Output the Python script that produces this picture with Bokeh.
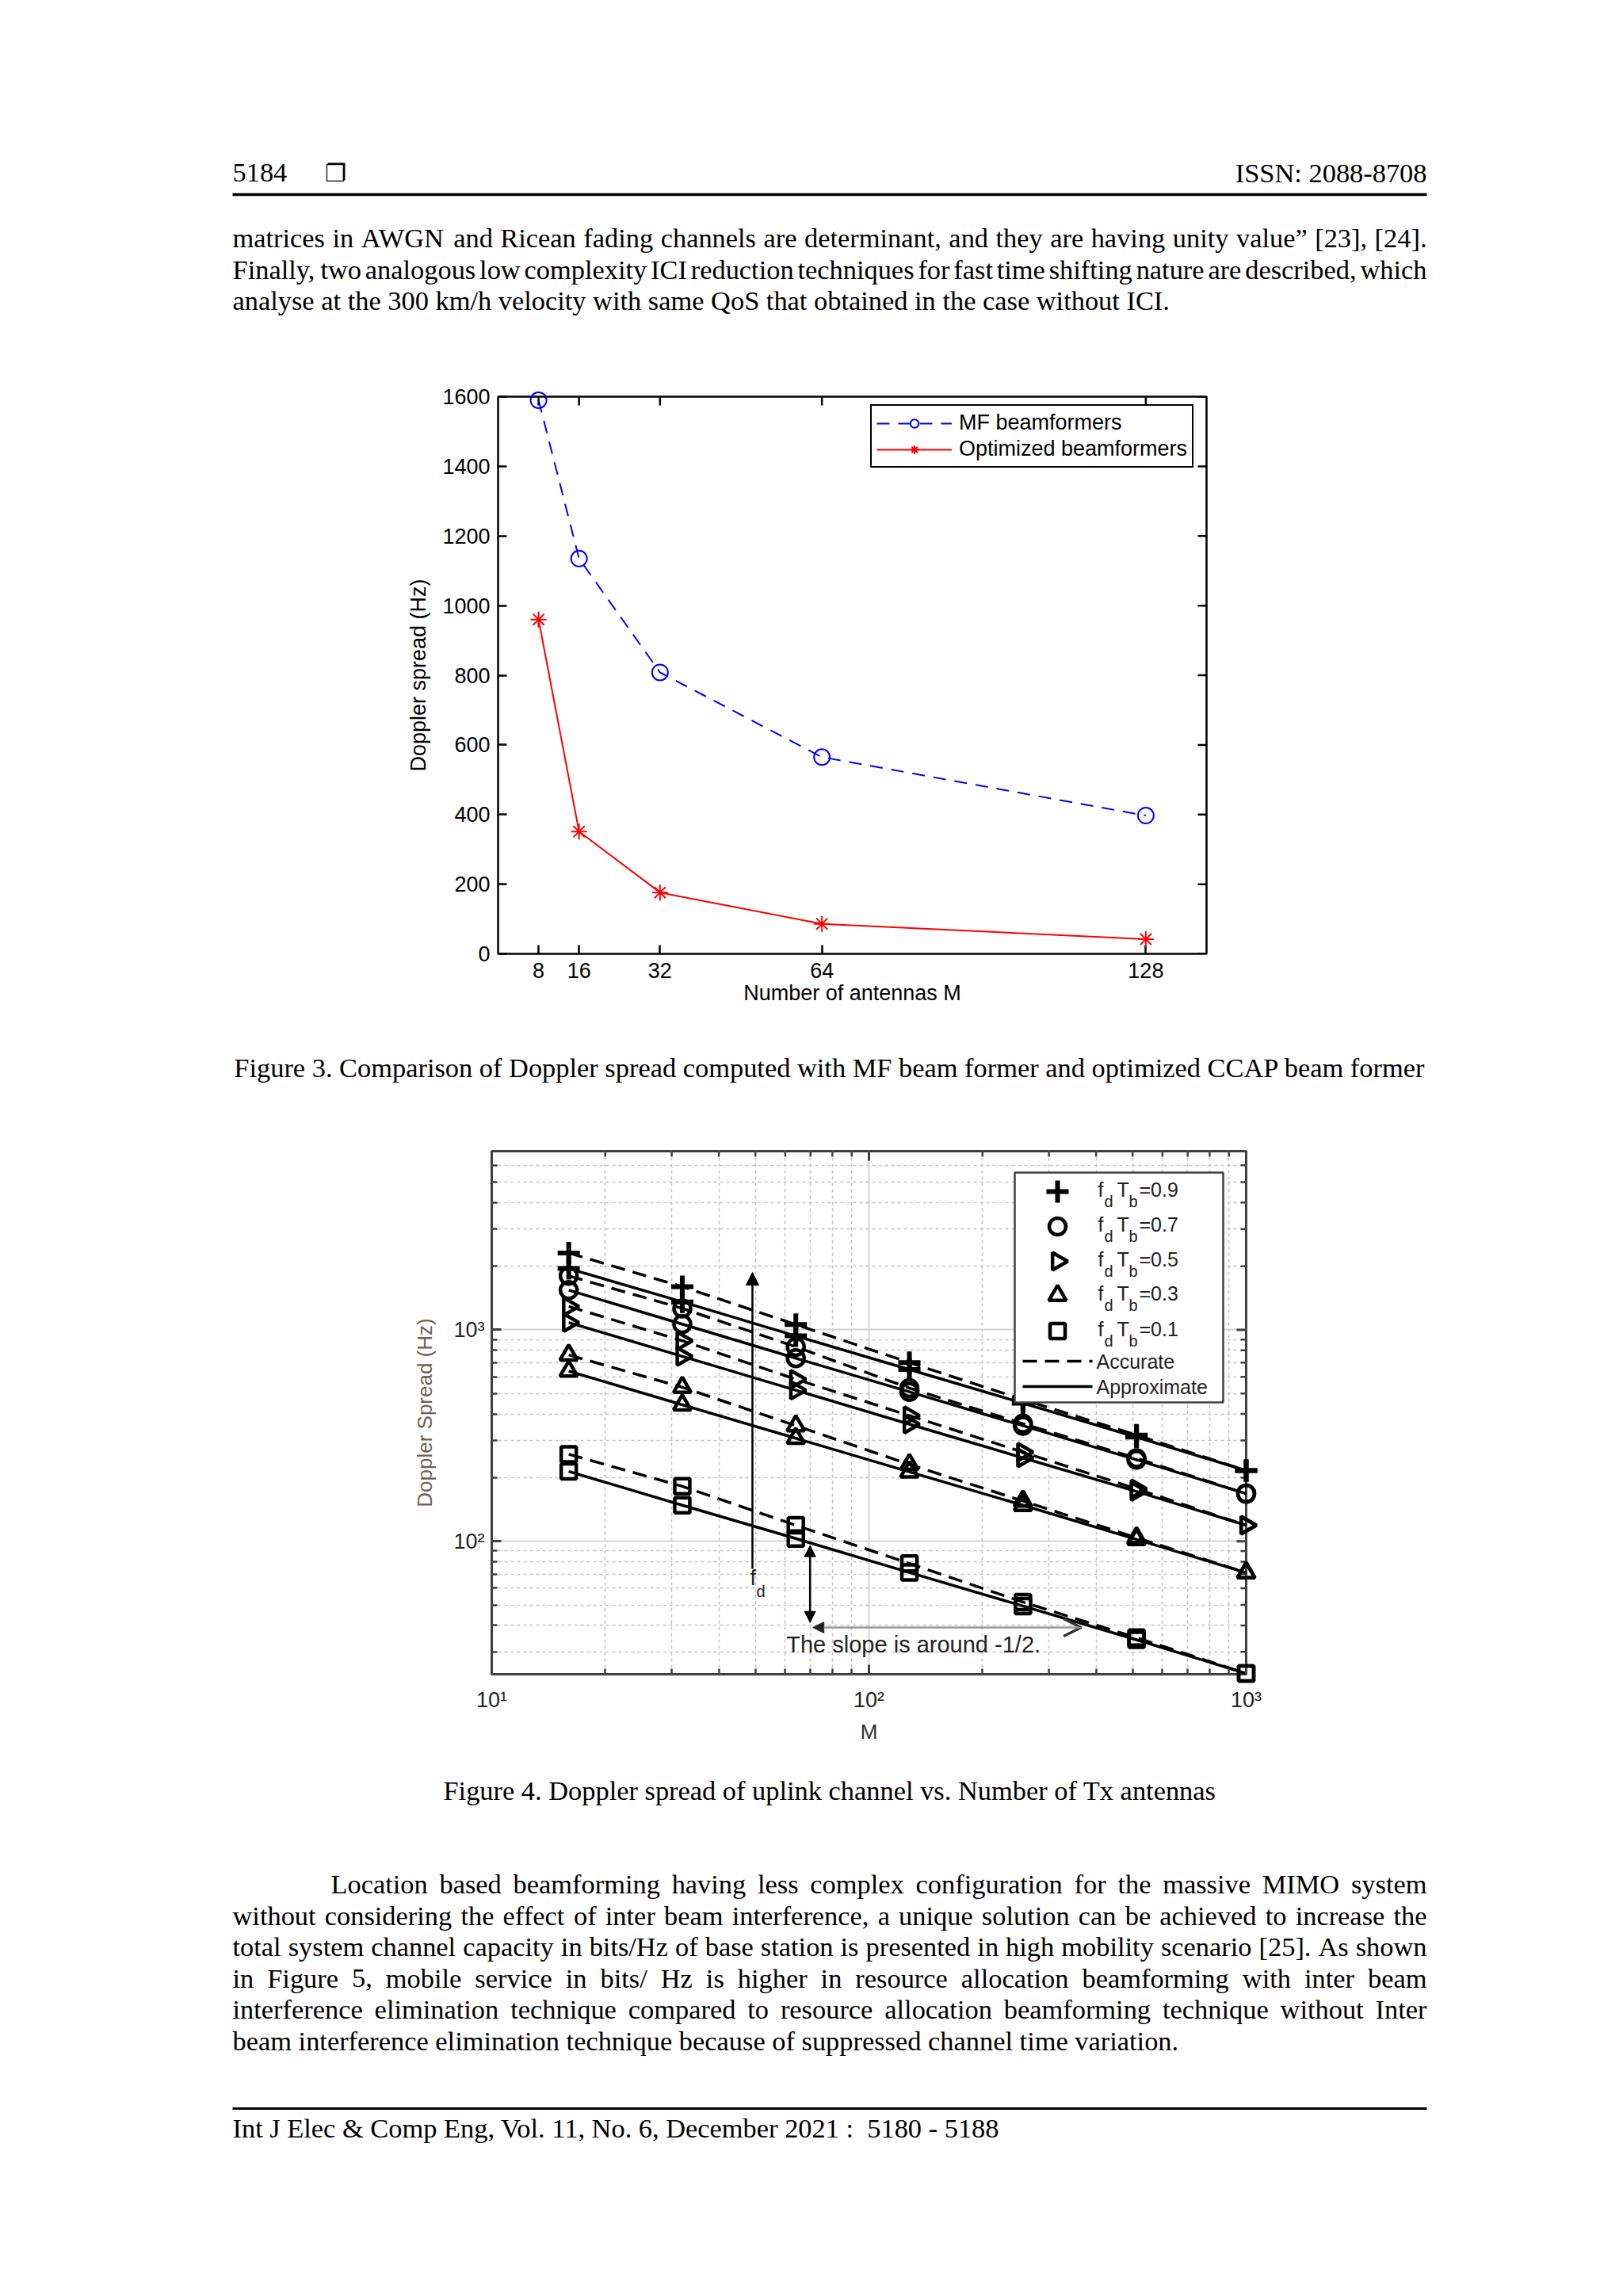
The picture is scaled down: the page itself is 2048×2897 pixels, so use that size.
import math
from bokeh.plotting import figure
from bokeh.layouts import column
from bokeh.models import (Range1d, FixedTicker, Legend, LegendItem,
                          Arrow, NormalHead, OpenHead, BasicTickFormatter)
from bokeh.core.properties import value
from bokeh.embed import file_html
from bokeh.resources import INLINE

# ---------------------------------------------------------------- data
# Figure 3
antennas_fig3 = [8, 16, 32, 64, 128]
mf_beamformers = [1590, 1135, 808, 565, 397]
optimized_beamformers = [960, 351, 176, 86, 42]
fig3_xticks = [8, 16, 32, 64, 128]
fig3_yticks = [0, 200, 400, 600, 800, 1000, 1200, 1400, 1600]

# Figure 4
antennas_fig4 = [16, 32, 64, 128, 256, 512, 1000]
fdtb_values = ["0.9", "0.7", "0.5", "0.3", "0.1"]
acc_09 = [2310, 1600, 1060, 700, 468, 318, 216]
app_09 = [1950, 1356, 936, 649, 450, 311, 216]
acc_07 = [1800, 1263, 831, 530, 360, 247, 168]
app_07 = [1541, 1064, 734, 509, 352, 243, 168]
acc_05 = [1290, 888, 584, 393, 264, 177, 119]
app_05 = [1083, 749, 518, 358, 248, 172, 119]
acc_03 = [761, 535, 352, 231, 155, 104, 71]
app_03 = [638, 442, 307, 213, 148, 102, 71]
acc_01 = [258, 182, 119, 78.5, 51.6, 35.0, 23.7]
app_01 = [214, 148, 103, 71.2, 49.4, 34.2, 23.7]
fig4_xticks = [10, 100, 1000]
fig4_yticks = [100, 1000]
fig4_xlabels = {10: "10\u00b9", 100: "10\u00b2", 1000: "10\u00b3"}
fig4_ylabels = {100: "10\u00b2", 1000: "10\u00b3"}
# annotation anchors (data units)
fd_arrow_x = 49.1
fd_arrow_y = (74.0, 1870.0)
dbl_arrow_x = 69.8
dbl_arrow_y = (95.4, 41.3)
slope_arrow_y = 39.1
slope_arrow_x = (365.0, 71.0)
slope_text_xy = (60.4, 32.4)

# page text
header_left = "5184"
header_box = "\u2750"
header_right = "ISSN: 2088-8708"
para1 = [
    "matrices in AWGN and Ricean fading channels are determinant, and they are having unity value\u201d [23], [24].",
    "Finally, two analogous low complexity ICI reduction techniques for fast time shifting nature are described, which",
    "analyse at the 300 km/h velocity with same QoS that obtained in the case without ICI.",
]
caption3 = "Figure 3. Comparison of Doppler spread computed with MF beam former and optimized CCAP beam former"
caption4 = "Figure 4. Doppler spread of uplink channel vs. Number of Tx antennas"
para2 = [
    "Location based beamforming having less complex configuration for the massive MIMO system",
    "without considering the effect of inter beam interference, a unique solution can be achieved to increase the",
    "total system channel capacity in bits/Hz of base station is presented in high mobility scenario [25]. As shown",
    "in Figure 5, mobile service in bits/ Hz is higher in resource allocation beamforming with inter beam",
    "interference elimination technique compared to resource allocation beamforming technique without Inter",
    "beam interference elimination technique because of suppressed channel time variation.",
]
footer = "Int J Elec & Comp Eng, Vol. 11, No. 6, December 2021 :\u00a0 5180 - 5188"

# ---------------------------------------------------------------- helpers
SERIF = "Liberation Serif"
SANS = "Liberation Sans"
FS = 34.4
W = 2048
TEXT_L, TEXT_R = 293, 1800

TW = {' ': 250, 'a': 444, 'b': 500, 'c': 444, 'd': 500, 'e': 444, 'f': 333, 'g': 500, 'h': 500,
      'i': 278, 'j': 278, 'k': 500, 'l': 278, 'm': 778, 'n': 500, 'o': 500, 'p': 500, 'q': 500,
      'r': 333, 's': 389, 't': 278, 'u': 500, 'v': 500, 'w': 722, 'x': 500, 'y': 500, 'z': 444,
      'A': 722, 'B': 667, 'C': 667, 'D': 722, 'E': 611, 'F': 556, 'G': 722, 'H': 722, 'I': 333,
      'J': 389, 'K': 722, 'L': 611, 'M': 889, 'N': 722, 'O': 722, 'P': 556, 'Q': 722, 'R': 667,
      'S': 556, 'T': 611, 'U': 722, 'V': 722, 'W': 944, 'X': 722, 'Y': 722, 'Z': 611,
      '.': 250, ',': 250, ':': 278, ';': 278, '-': 333, '/': 278, '[': 333, ']': 333,
      '(': 333, ')': 333, '\u201d': 444, '\u201c': 444, '&': 778}


def tw(s, fs=FS):
    return sum(TW.get(c, 500) for c in s) * fs / 1000.0


def page_fig(height):
    f = figure(width=W, height=height, x_range=Range1d(0, W), y_range=Range1d(height, 0),
               x_axis_location=None, y_axis_location=None, output_backend="svg",
               toolbar_location=None, min_border=0, frame_align=False)
    f.grid.visible = False
    f.outline_line_color = None
    return f


def put(f, x, y, s, align="left", font=SERIF, size=FS):
    f.text(x=[x], y=[y], text=[s], text_font=value(font), text_font_size=value(f"{size}px"),
           text_align=align, text_baseline="middle", text_color="black")


def justified(f, line, left, right, y):
    words = line.split(" ")
    ws = [tw(w) for w in words]
    gap = (right - left - sum(ws)) / (len(words) - 1)
    xs, x = [], left
    for w in ws:
        xs.append(x)
        x += w + gap
    f.text(x=xs[:-1], y=[y] * (len(words) - 1), text=words[:-1], text_font=value(SERIF),
           text_font_size=value(f"{FS}px"), text_align="left", text_baseline="middle",
           text_color="black")
    put(f, right, y, words[-1], align="right")


# ---------------------------------------------------------------- A: header + para 1 (page y 0-430)
A = page_fig(430)
put(A, TEXT_L, 217.5, header_left)
put(A, 423, 217.5, header_box, align="center", font="DejaVu Sans", size=30)
put(A, TEXT_R, 217.5, header_right, align="right")
A.segment(x0=[TEXT_L], y0=[245], x1=[TEXT_R], y1=[245], line_width=3.5, line_color="black")
for i, (line, y) in enumerate(zip(para1, [299, 339, 378.5])):
    if i < len(para1) - 1:
        justified(A, line, TEXT_L, TEXT_R, y)
    else:
        put(A, TEXT_L, y, line)

# ---------------------------------------------------------------- B: figure 3 (page y 430-1300)
X3 = (0, 140)
Y3 = (0, 1600)
F3_W, F3_H = 894, 703        # frame size in px
p3 = figure(width=W, height=870, x_range=Range1d(*X3), y_range=Range1d(*Y3),
            output_backend="svg", toolbar_location=None, frame_align=False,
            min_border_left=628, min_border_right=W - 1522, min_border_top=70, min_border_bottom=97)
p3.grid.visible = False
p3.outline_line_color = "black"
p3.outline_line_width = 2.5
p3.outline_line_alpha = 1.0

xt3 = FixedTicker(ticks=fig3_xticks, minor_ticks=[])
yt3 = FixedTicker(ticks=fig3_yticks, minor_ticks=[])
TICK3 = 11
for ax in (p3.xaxis[0], p3.yaxis[0]):
    ax.axis_line_color = None
    ax.major_tick_in = TICK3
    ax.major_tick_out = 0
    ax.minor_tick_in = 0
    ax.minor_tick_out = 0
    ax.major_tick_line_color = "black"
    ax.major_tick_line_width = 2.5
    ax.major_label_text_font = SANS
    ax.major_label_text_font_size = "27px"
    ax.major_label_text_color = "black"
    ax.axis_label_text_font = SANS
    ax.axis_label_text_font_size = "27px"
    ax.axis_label_text_font_style = "normal"
    ax.axis_label_text_color = "black"
p3.xaxis.ticker = xt3
p3.yaxis.ticker = yt3
p3.xaxis.major_label_standoff = 11
p3.xaxis.axis_label = "Number of antennas M"
p3.xaxis.axis_label_standoff = 1
p3.yaxis.major_label_standoff = 10
p3.yaxis.axis_label = "Doppler spread (Hz)"
p3.yaxis.axis_label_standoff = 12

# ticks on the top and right edges (box on)
dy3 = TICK3 * (Y3[1] - Y3[0]) / F3_H
dx3 = TICK3 * (X3[1] - X3[0]) / F3_W
p3.segment(x0=fig3_xticks, y0=[Y3[1]] * len(fig3_xticks), x1=fig3_xticks,
           y1=[Y3[1] - dy3] * len(fig3_xticks), line_color="black", line_width=2.5)
p3.segment(x0=[X3[1]] * len(fig3_yticks), y0=fig3_yticks, x1=[X3[1] - dx3] * len(fig3_yticks),
           y1=fig3_yticks, line_color="black", line_width=2.5)

mf_line = p3.line(antennas_fig3, mf_beamformers, line_color="#0000ff", line_width=2, line_dash="16 11")
mf_pts = p3.scatter(antennas_fig3, mf_beamformers, marker="circle", size=20, line_color="#0000ff",
                    fill_color=None, line_width=2, level="annotation")
opt_line = p3.line(antennas_fig3, optimized_beamformers, line_color="#ff0000", line_width=2)
opt_pts = p3.scatter(antennas_fig3, optimized_beamformers, marker="asterisk", size=20,
                     line_color="#ff0000", line_width=2, level="annotation")
leg3 = Legend(items=[LegendItem(label=value("MF beamformers"), renderers=[mf_line, mf_pts]),
                     LegendItem(label=value("Optimized beamformers"), renderers=[opt_line, opt_pts])],
              location=(470, 613), orientation="vertical", margin=0, padding=6, spacing=2,
              glyph_width=95, glyph_height=26, label_height=26, label_standoff=9,
              label_text_font=SANS, label_text_font_size="27px", label_text_color="black",
              border_line_color="black", border_line_width=2, border_line_alpha=1.0,
              background_fill_color="white", background_fill_alpha=1.0)
p3.add_layout(leg3)

# ---------------------------------------------------------------- C: caption 3 (page y 1300-1400)
C = page_fig(100)
put(C, (TEXT_L + TEXT_R) / 2, 46, caption3, align="center")

# ---------------------------------------------------------------- D: figure 4 (page y 1400-2215)
LX0, LX1 = 10.0, 1000.0
LY0, LY1 = 23.5, 7000.0
F4_L, F4_R, F4_T, F4_B = 620, 1572, 1452, 2112   # frame position on the page (px)


def fx(px):
    return 10 ** (math.log10(LX0) + (px - F4_L) / (F4_R - F4_L) * (math.log10(LX1) - math.log10(LX0)))


def fy(py):
    return 10 ** (math.log10(LY1) - (py - F4_T) / (F4_B - F4_T) * (math.log10(LY1) - math.log10(LY0)))


p4 = figure(width=W, height=815, x_axis_type="log", y_axis_type="log",
            x_range=Range1d(LX0, LX1), y_range=Range1d(LY0, LY1),
            output_backend="svg", toolbar_location=None, frame_align=False,
            min_border_left=F4_L, min_border_right=W - F4_R, min_border_top=52, min_border_bottom=103)
p4.outline_line_color = "#404040"
p4.outline_line_width = 3
p4.outline_line_alpha = 1.0

x_minor = [m * d for d in (10, 100) for m in range(2, 10)]
y_minor = [m * d for d in (10, 100, 1000) for m in range(2, 10) if LY0 <= m * d <= LY1]
xt4 = FixedTicker(ticks=fig4_xticks, minor_ticks=x_minor)
yt4 = FixedTicker(ticks=fig4_yticks, minor_ticks=y_minor)
MAJ4, MIN4 = 12, 7
for ax in (p4.xaxis[0], p4.yaxis[0]):
    ax.axis_line_color = None
    ax.major_tick_in = MAJ4
    ax.major_tick_out = 0
    ax.minor_tick_in = MIN4
    ax.minor_tick_out = 0
    ax.major_tick_line_color = "#404040"
    ax.major_tick_line_width = 3
    ax.minor_tick_line_color = "#404040"
    ax.minor_tick_line_width = 2.5
    ax.formatter = BasicTickFormatter()
    ax.major_label_text_font = SANS
    ax.major_label_text_font_size = "27px"
    ax.major_label_text_color = "#222222"
    ax.axis_label_text_font = SANS
    ax.axis_label_text_font_size = "26px"
    ax.axis_label_text_font_style = "normal"
p4.xaxis.ticker = xt4
p4.yaxis.ticker = yt4
p4.xaxis.major_label_overrides = fig4_xlabels
p4.yaxis.major_label_overrides = fig4_ylabels
p4.xaxis.major_label_standoff = 17
p4.xaxis.axis_label = "M"
p4.xaxis.axis_label_standoff = 7
p4.xaxis.axis_label_text_color = "#333333"
p4.yaxis.major_label_standoff = 9
p4.yaxis.axis_label = "Doppler Spread (Hz)"
p4.yaxis.axis_label_standoff = 18
p4.yaxis.axis_label_text_color = "#6a6258"

for g, t in ((p4.xgrid[0], xt4), (p4.ygrid[0], yt4)):
    g.ticker = t
    g.grid_line_color = "#d4d4d4"
    g.grid_line_width = 2
    g.minor_grid_line_color = "#c4c4c4"
    g.minor_grid_line_width = 1.6
    g.minor_grid_line_dash = "4 4"

# ticks on the top and right edges (box on)
for ticks, ln, lw in ((fig4_xticks, MAJ4, 3), (x_minor, MIN4, 2.5)):
    p4.segment(x0=ticks, y0=[LY1] * len(ticks), x1=ticks, y1=[fy(F4_T + ln)] * len(ticks),
               line_color="#404040", line_width=lw)
for ticks, ln, lw in ((fig4_yticks, MAJ4, 3), (y_minor, MIN4, 2.5)):
    p4.segment(x0=[LX1] * len(ticks), y0=ticks, x1=[fx(F4_R - ln)] * len(ticks), y1=ticks,
               line_color="#404040", line_width=lw)

styles4 = [("cross", 0.0, 28, 6.0), ("circle", 0.0, 21, 4.5), ("triangle", -math.pi / 2, 22, 4.5),
           ("triangle", 0.0, 22, 4.5), ("square", 0.0, 19, 4.5)]
series4 = [(acc_09, app_09), (acc_07, app_07), (acc_05, app_05), (acc_03, app_03), (acc_01, app_01)]

for acc, app in series4:
    p4.line(antennas_fig4, acc, line_color="black", line_width=3.5, line_dash="18 10")
    p4.line(antennas_fig4, app, line_color="black", line_width=3.5)
for (acc, app), (mk, ang, sz, lw) in zip(series4, styles4):
    for ys in (acc, app):
        p4.scatter(antennas_fig4, ys, marker=mk, angle=ang, size=sz, line_color="black",
                   fill_color=None, line_width=lw, level="annotation")

# annotations
p4.add_layout(Arrow(x_start=fd_arrow_x, y_start=fd_arrow_y[0], x_end=fd_arrow_x, y_end=fd_arrow_y[1],
                    line_width=2.5, line_color="black", start=None,
                    end=NormalHead(size=16, fill_color="black", line_color="black")))
p4.add_layout(Arrow(x_start=dbl_arrow_x, y_start=dbl_arrow_y[0], x_end=dbl_arrow_x, y_end=dbl_arrow_y[1],
                    line_width=2.5, line_color="black",
                    start=NormalHead(size=14, fill_color="black", line_color="black"),
                    end=NormalHead(size=14, fill_color="black", line_color="black")))
p4.add_layout(Arrow(x_start=slope_arrow_x[0], y_start=slope_arrow_y, x_end=slope_arrow_x[1], y_end=slope_arrow_y,
                    line_width=2.5, line_color="#9a9a9a",
                    start=OpenHead(size=22, line_color="#333333", line_width=3.5),
                    end=NormalHead(size=14, fill_color="#222222", line_color="#222222")))
p4.text(x=[slope_text_xy[0]], y=[slope_text_xy[1]], text=["The slope is around -1/2."],
        text_font=value(SANS), text_font_size=value("29px"), text_align="left",
        text_baseline="middle", text_color="#222222")
p4.text(x=[fx(946)], y=[fy(1990)], text=["f"], text_font=value(SANS), text_font_size=value("27px"),
        text_align="left", text_baseline="middle", text_color="#222222")
p4.text(x=[fx(954)], y=[fy(2007)], text=["d"], text_font=value(SANS), text_font_size=value("20px"),
        text_align="left", text_baseline="middle", text_color="#222222")

# legend (drawn by hand so that the subscripts can be shown)
LEG_L, LEG_R, LEG_T, LEG_B = 1280, 1543, 1479, 1769
leg_rows = [1503, 1547, 1591, 1634, 1679, 1717, 1749]
p4.quad(left=[fx(LEG_L)], right=[fx(LEG_R)], top=[fy(LEG_T)], bottom=[fy(LEG_B)],
        fill_color="white", line_color="#404040", line_width=2.5, level="annotation")
for (mk, ang, sz, lw), row in zip(styles4, leg_rows):
    p4.scatter([fx(1334)], [fy(row)], marker=mk, angle=ang, size=sz, line_color="black",
               fill_color=None, line_width=lw, level="annotation")
p4.line([fx(1290), fx(1378)], [fy(leg_rows[5])] * 2, line_color="black", line_width=3.5,
        line_dash="18 10", level="annotation")
p4.line([fx(1290), fx(1378)], [fy(leg_rows[6])] * 2, line_color="black", line_width=3.5,
        level="annotation")
pieces = [("f", 1385, -3, "25px"), ("d", 1393, 12, "20px"), ("T", 1409, -3, "25px"),
          ("b", 1424, 12, "20px")]
for val, row in zip(fdtb_values, leg_rows[:5]):
    for s, px, dy, size in pieces + [("=" + val, 1437, -3, "25px")]:
        p4.text(x=[fx(px)], y=[fy(row + dy)], text=[s], text_font=value(SANS),
                text_font_size=value(size), text_align="left", text_baseline="middle",
                text_color="#222222", level="annotation")
for s, row in (("Accurate", leg_rows[5]), ("Approximate", leg_rows[6])):
    p4.text(x=[fx(1383)], y=[fy(row)], text=[s], text_font=value(SANS), text_font_size=value("25px"),
            text_align="left", text_baseline="middle", text_color="#222222", level="annotation")

# ---------------------------------------------------------------- E: caption 4 + para 2 + footer (page y 2215-2730)
E = page_fig(515)
put(E, (TEXT_L + TEXT_R) / 2, 43, caption4, align="center")
para2_y = [161.5, 201, 240.5, 280, 319.5, 359]
for i, (line, y) in enumerate(zip(para2, para2_y)):
    left = TEXT_L + 124 if i == 0 else TEXT_L
    if i < len(para2) - 1:
        justified(E, line, left, TEXT_R, y)
    else:
        put(E, TEXT_L, y, line)
E.segment(x0=[TEXT_L], y0=[445], x1=[TEXT_R], y1=[445], line_width=3, line_color="black")
put(E, TEXT_L, 469, footer)

page = column(A, p3, C, p4, E, spacing=0)
open("out.html", "w").write(file_html(page, INLINE))
